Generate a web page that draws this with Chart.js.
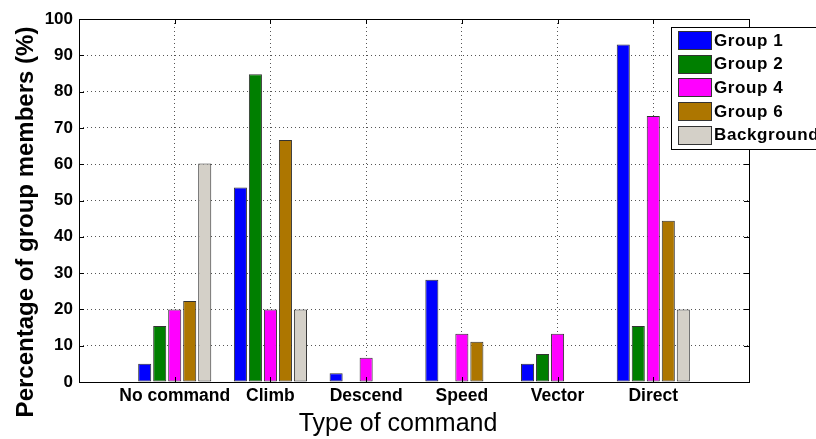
<!DOCTYPE html>
<html>
<head>
<meta charset="utf-8">
<script src="https://cdn.jsdelivr.net/npm/chart.js@4"></script>
<style>
  html,body{margin:0;padding:0;background:#fff;}
  #wrap{width:816px;height:439px;position:relative;}
</style>
</head>
<body>
<div id="wrap"><canvas id="chart" width="816" height="439"></canvas></div>
<script>
// data
const categories = ['No command', 'Climb', 'Descend', 'Speed', 'Vector', 'Direct'];
const group1 = [5, 53.6, 2.4, 28.2, 5, 93];
const group2 = [15.4, 84.8, 0, 0, 7.7, 15.4];
const group4 = [20, 20, 6.7, 13.3, 13.3, 73.3];
const group6 = [22.3, 66.7, 0, 11.1, 0, 44.4];
const background = [60.2, 20, 0, 0, 0, 20];
const yTicks = [0, 10, 20, 30, 40, 50, 60, 70, 80, 90, 100];
const xTitle = 'Type of command';
const yTitle = 'Percentage of group members (%)';

const FONT = "'Liberation Sans', Arial, Helvetica, sans-serif";

// empty slot at each end so categories sit at 1..6 on a 0..7 axis
const pad = arr => [null, ...arr, null];

function ds(label, data, color){
  return {
    label, data: pad(data), backgroundColor: color,
    borderColor: '#333', borderWidth: 1, borderSkipped: false,
    categoryPercentage: 0.784, barPercentage: 0.87
  };
}

// box around plot, inward tick marks, axis titles, legend inside top right
const matlabBox = {
  id: 'matlabBox',
  afterDraw(chart){
    const {ctx, chartArea:a, scales:{x, y}} = chart;
    ctx.save();
    ctx.strokeStyle = '#000'; ctx.lineWidth = 1;
    ctx.strokeRect(a.left + 0.5, a.top + 0.5, a.right - a.left, a.bottom - a.top);
    ctx.beginPath();
    for(let i = 1; i <= categories.length; i++){
      const px = Math.round(x.getPixelForValue(i)) + 0.5;
      ctx.moveTo(px, a.top); ctx.lineTo(px, a.top + 5);
      ctx.moveTo(px, a.bottom); ctx.lineTo(px, a.bottom - 5);
    }
    yTicks.forEach(v=>{
      const py = Math.round(y.getPixelForValue(v)) + 0.5;
      ctx.moveTo(a.left, py); ctx.lineTo(a.left + 5, py);
      ctx.moveTo(a.right, py); ctx.lineTo(a.right - 5, py);
    });
    ctx.stroke();

    // axis titles
    ctx.fillStyle = '#000';
    ctx.textAlign = 'center';
    ctx.textBaseline = 'alphabetic';
    ctx.font = '25px ' + FONT;
    ctx.fillText(xTitle, 398, 431);
    ctx.save();
    ctx.translate(33, 222);
    ctx.rotate(-Math.PI / 2);
    ctx.font = 'bold 24px ' + FONT;
    ctx.fillText(yTitle, 0, 0);
    ctx.restore();

    // legend
    const lx = 671, ly = 27, lh = 122;
    ctx.textAlign = 'left';
    ctx.fillStyle = '#fff';
    ctx.fillRect(lx, ly, 200, lh);
    ctx.strokeStyle = '#000';
    ctx.strokeRect(lx + 0.5, ly + 0.5, 200, lh);
    ctx.font = 'bold 17px ' + FONT;
    ctx.letterSpacing = '0.6px';
    ctx.textBaseline = 'middle';
    chart.data.datasets.forEach((d, i)=>{
      const cy = 40 + i * 23.7;
      ctx.fillStyle = d.backgroundColor;
      ctx.fillRect(678, Math.round(cy - 9), 33, 18);
      ctx.strokeStyle = '#333';
      ctx.strokeRect(678.5, Math.round(cy - 9) + 0.5, 33, 18);
      ctx.fillStyle = '#000';
      ctx.fillText(d.label, 714, cy + 1);
    });
    ctx.restore();
  }
};

new Chart(document.getElementById('chart'), {
  type: 'bar',
  data: {
    labels: ['', ...categories, ''],
    datasets: [
      ds('Group 1', group1, '#0000FF'),
      ds('Group 2', group2, '#007F00'),
      ds('Group 4', group4, '#FF00FF'),
      ds('Group 6', group6, '#AD7600'),
      ds('Background', background, '#D4D0C8')
    ]
  },
  options: {
    responsive: false,
    animation: false,
    layout: {padding: {top: 19, right: 67, left: 0, bottom: 0}},
    plugins: {legend: {display: false}, tooltip: {enabled: false}},
    scales: {
      x: {
        offset: false,
        grid: {offset: false, color: '#555', drawTicks: false},
        border: {display: false, dash: [1, 3]},
        ticks: {color: '#000', font: {family: FONT, size: 17.5, weight: 'bold'}, padding: 4, maxRotation: 0, autoSkip: false},
        afterFit: s => { s.height = 57; }
      },
      y: {
        min: 0, max: 100,
        grid: {color: '#555', drawTicks: false},
        border: {display: false, dash: [1, 3]},
        afterBuildTicks: s => { s.ticks = yTicks.map(v => ({value: v})); },
        ticks: {color: '#000', font: {family: FONT, size: 17, weight: 'bold'}, padding: 6},
        afterFit: s => { s.width = 79; }
      }
    }
  },
  plugins: [matlabBox]
});
</script>
</body>
</html>
